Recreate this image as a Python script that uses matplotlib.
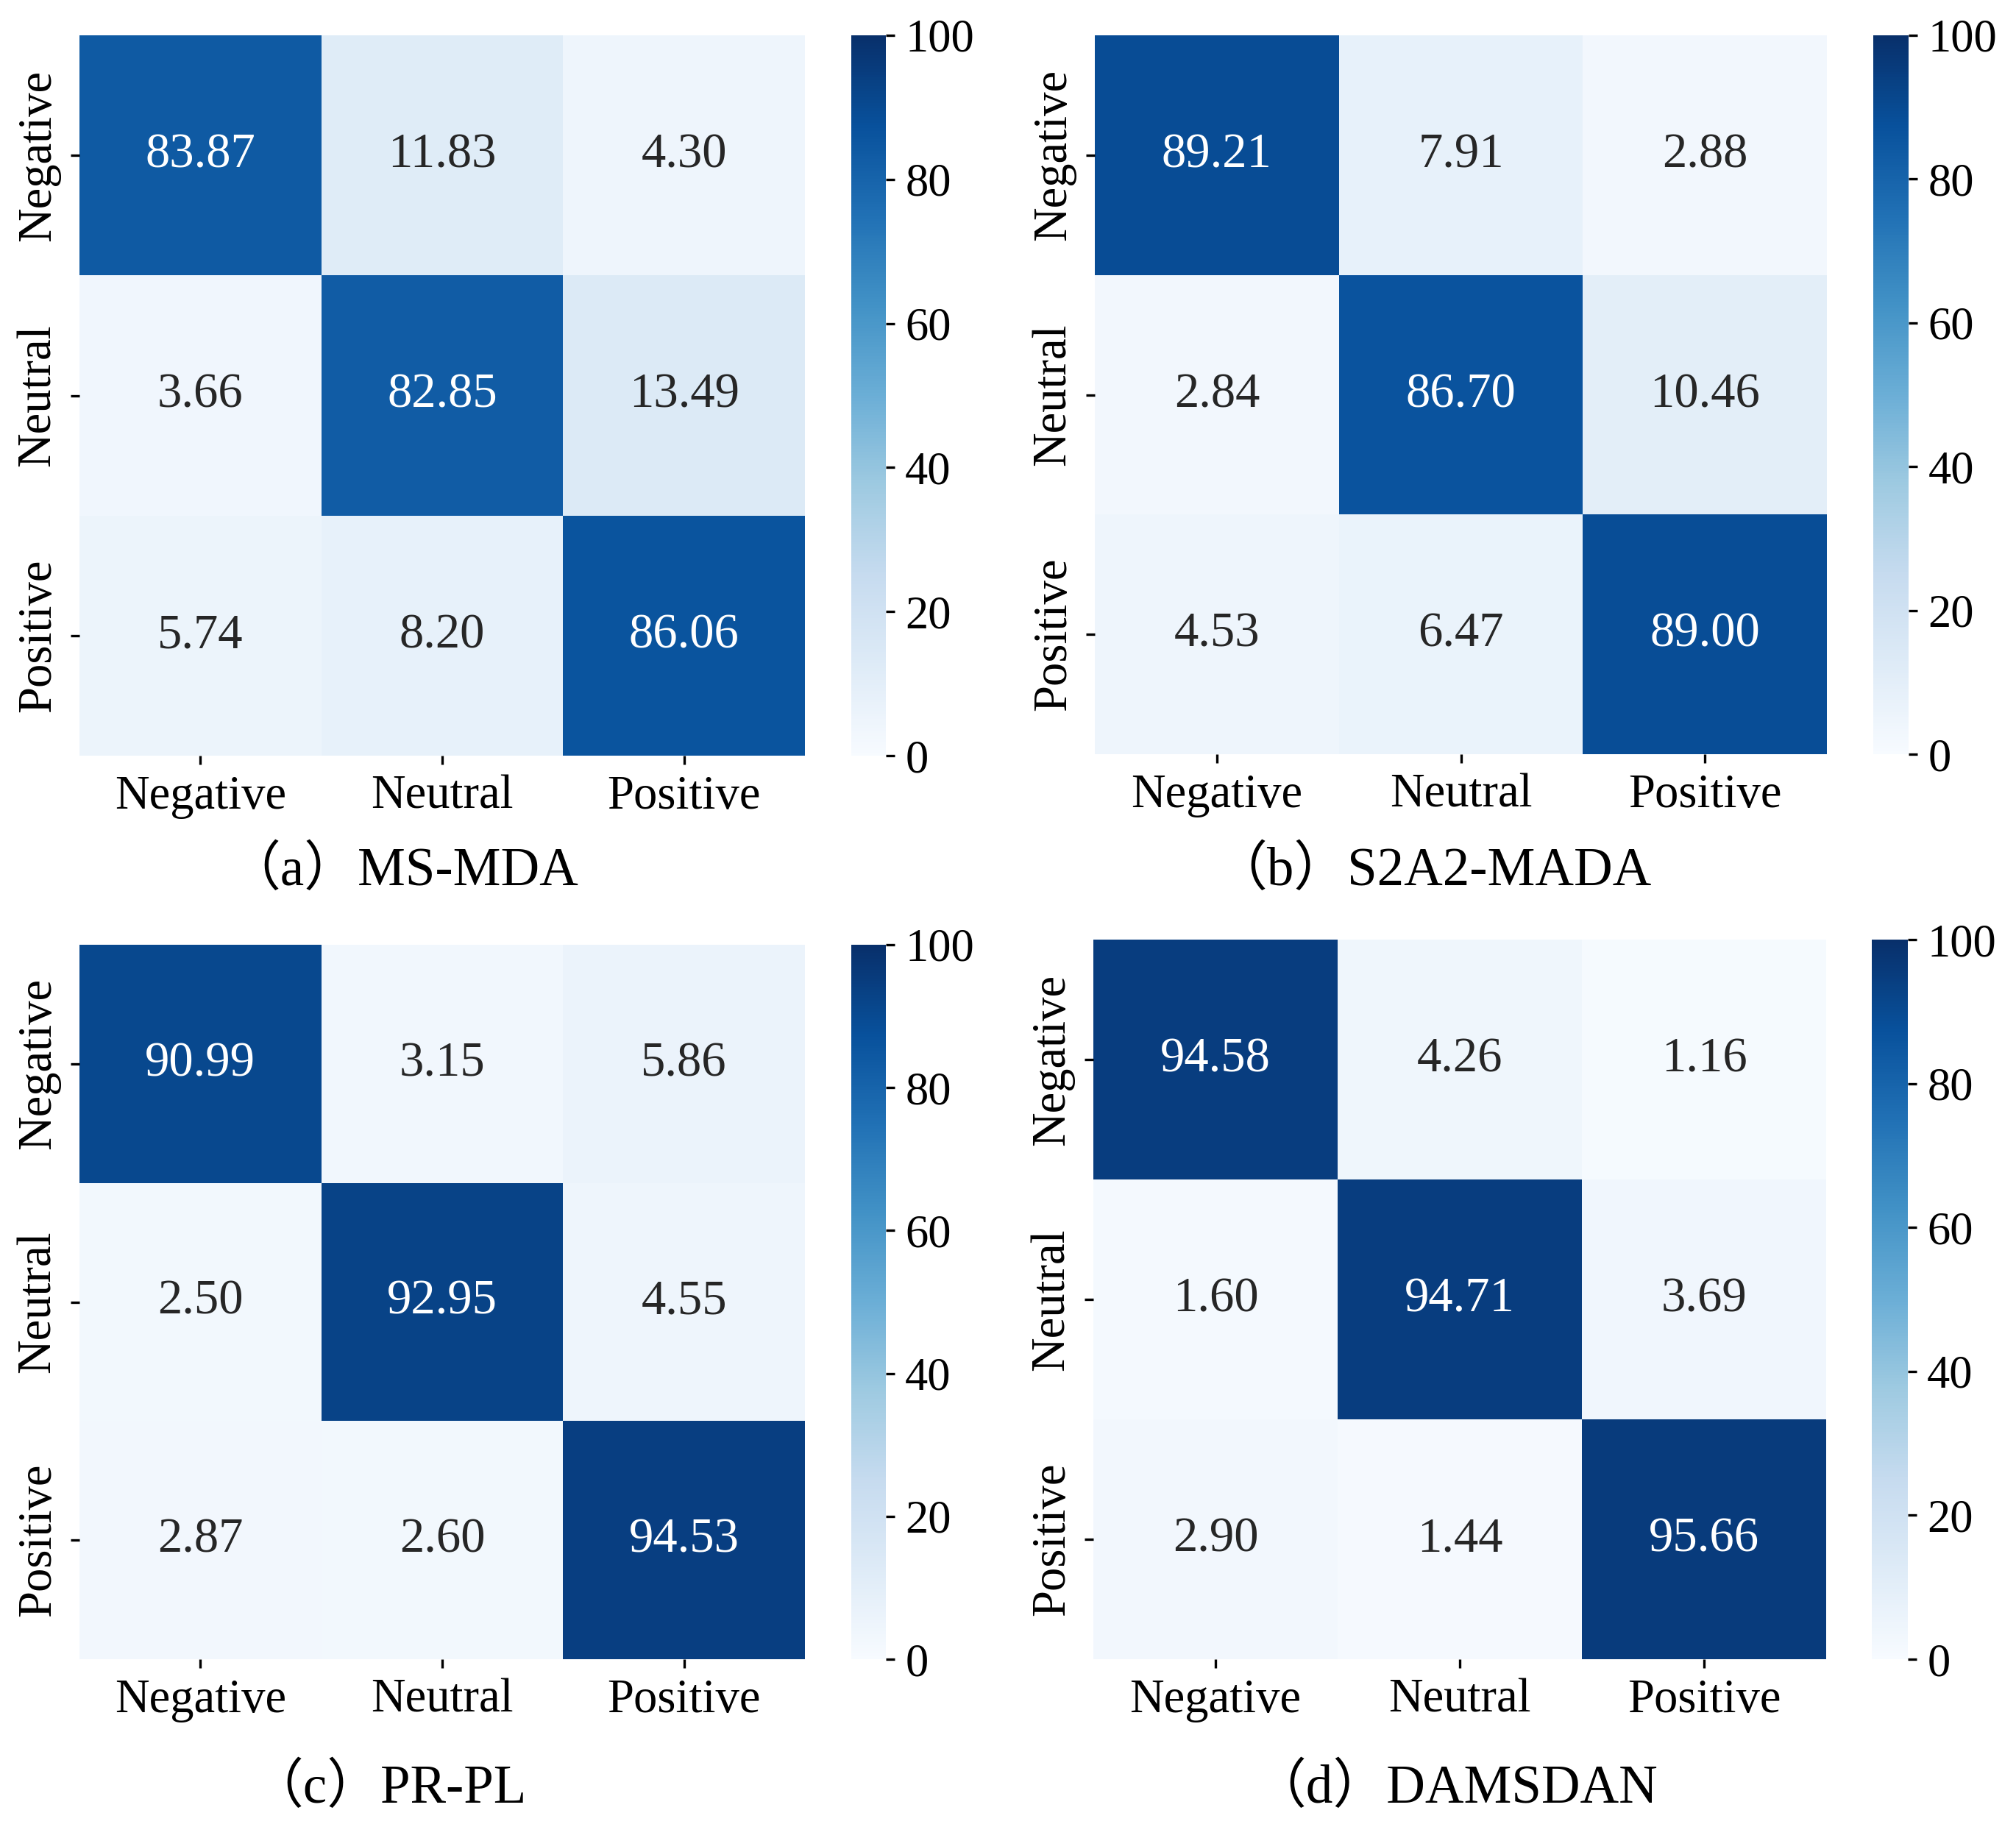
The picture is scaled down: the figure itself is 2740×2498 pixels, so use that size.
import numpy as np
import matplotlib
matplotlib.use("Agg")
import matplotlib.pyplot as plt
import seaborn as sns

plt.rcParams['font.family'] = ['Liberation Serif', 'Noto Sans CJK SC']

labels = ["Negative", "Neutral", "Positive"]

ms_mda = [[83.87, 11.83, 4.30],
          [3.66, 82.85, 13.49],
          [5.74, 8.20, 86.06]]
s2a2_mada = [[89.21, 7.91, 2.88],
             [2.84, 86.70, 10.46],
             [4.53, 6.47, 89.00]]
pr_pl = [[90.99, 3.15, 5.86],
         [2.50, 92.95, 4.55],
         [2.87, 2.60, 94.53]]
damsdan = [[94.58, 4.26, 1.16],
           [1.60, 94.71, 3.69],
           [2.90, 1.44, 95.66]]

matrices = [ms_mda, s2a2_mada, pr_pl, damsdan]
captions = ["（a）MS-MDA", "（b）S2A2-MADA", "（c）PR-PL", "（d）DAMSDAN"]

W, H = 2740, 2498
fig = plt.figure(figsize=(W / 300, H / 300), dpi=300)


def px_box(x0, x1, y0, y1):
    # pixel box (top-left origin) -> figure fraction rect
    return [x0 / W, 1 - y1 / H, (x1 - x0) / W, (y1 - y0) / H]


# heatmap boxes and colorbar boxes, in pixels
heat_boxes = [(108, 1094, 48, 1027), (1488, 2483, 48, 1025),
              (108, 1094, 1284, 2255), (1486, 2482, 1277, 2255)]
cbar_boxes = [(1157, 1204, 48, 1027), (2546, 2594, 48, 1025),
              (1157, 1204, 1284, 2255), (2544, 2593, 1277, 2255)]
caption_pos = [(547, 1203), (1947, 1203), (528, 2450), (1978, 2450)]

for m, cap, hb, cb, cp in zip(matrices, captions, heat_boxes, cbar_boxes, caption_pos):
    ax = fig.add_axes(px_box(*hb))
    cax = fig.add_axes(px_box(*cb))
    sns.heatmap(np.array(m), ax=ax, cbar_ax=cax, annot=True, fmt=".2f",
                cmap="Blues", vmin=0, vmax=100,
                xticklabels=labels, yticklabels=labels,
                annot_kws={"size": 16})
    ax.tick_params(labelsize=15.5, length=2.8, width=0.8)
    plt.setp(ax.get_yticklabels(), rotation=90, va="center")
    plt.setp(ax.get_xticklabels(), rotation=0)
    cax.tick_params(labelsize=15, length=2.8, width=0.8)
    cax.set_yticks([0, 20, 40, 60, 80, 100])
    fig.text(cp[0] / W, 1 - cp[1] / H, cap, ha="center", va="baseline", fontsize=17.5)

fig.savefig("out.png", dpi=300)
